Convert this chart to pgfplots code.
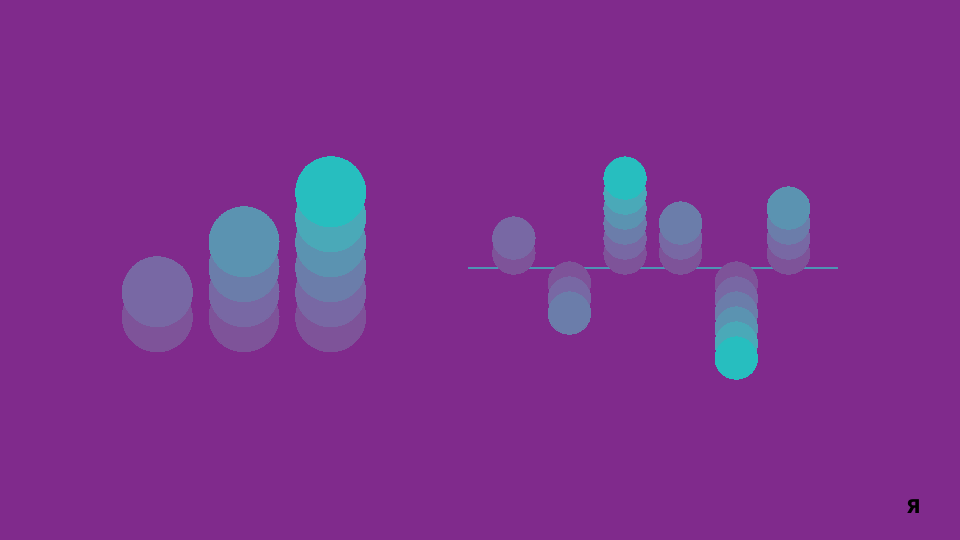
\documentclass[border=0pt]{standalone}
\usepackage{pgfplots}
\pgfplotsset{compat=1.18}
\usepackage{fontspec}
\newfontfamily\logofont{DejaVu Sans}

\definecolor{bgpurple}{HTML}{802A8C}
\definecolor{lvA}{HTML}{7E5399}
\definecolor{lvB}{HTML}{7868A4}
\definecolor{lvC}{HTML}{6B7DAA}
\definecolor{lvD}{HTML}{5B93B1}
\definecolor{lvE}{HTML}{4AA9B8}
\definecolor{lvF}{HTML}{27BEBF}
\definecolor{zeroline}{HTML}{4F93B4}

\pgfplotsset{
  lvl/.style={only marks, mark=*, color=#1, mark options={solid, fill=#1, draw=#1, line width=0pt}},
  dotaxis/.style={hide axis, scale only axis, clip=false, anchor=south west},
}

\begin{document}
\begin{tikzpicture}
\path[use as bounding box] (0,0) rectangle (960pt,540pt);
\fill[bgpurple] (0,0) rectangle (960pt,540pt);

% left: stacked dots, values 2, 4, 6
\begin{axis}[dotaxis,
  at={(70.6pt,198.3pt)},
  width=346.8pt, height=200pt,
  xmin=0, xmax=4, ymin=0, ymax=8,
  mark size=35pt]
\addplot[lvl=lvA] coordinates {(1,1) (2,1) (3,1)};
\addplot[lvl=lvB] coordinates {(1,2) (2,2) (3,2)};
\addplot[lvl=lvC] coordinates {(2,3) (3,3)};
\addplot[lvl=lvD] coordinates {(2,4) (3,4)};
\addplot[lvl=lvE] coordinates {(3,5)};
\addplot[lvl=lvF] coordinates {(3,6)};
\end{axis}

% right: dots above / below zero, values 2, -3, 6, 3, -6, 4
\begin{axis}[dotaxis,
  at={(458.2pt,167pt)},
  width=389.2pt, height=210pt,
  xmin=0, xmax=7, ymin=-7, ymax=7,
  mark size=21.2pt]
\addplot[lvl=lvA] coordinates {(1,1) (2,-1) (3,1) (4,1) (5,-1) (5.94,1)};
\addplot[lvl=lvB] coordinates {(1,2) (2,-2) (3,2) (4,2) (5,-2) (5.94,2)};
\addplot[lvl=lvC] coordinates {(2,-3) (3,3) (4,3) (5,-3) (5.94,3)};
\addplot[lvl=lvD] coordinates {(3,4) (5,-4) (5.94,4)};
\addplot[lvl=lvE] coordinates {(3,5) (5,-5)};
\addplot[lvl=lvF] coordinates {(3,6) (5,-6)};
\addplot[zeroline, line width=2pt, no marks] coordinates {(0.18,0) (6.826,0)};
\end{axis}

\node[font=\logofont\bfseries\fontsize{19}{19}\selectfont, text=black] at (913.5pt,33pt) {Я};
\end{tikzpicture}
\end{document}
